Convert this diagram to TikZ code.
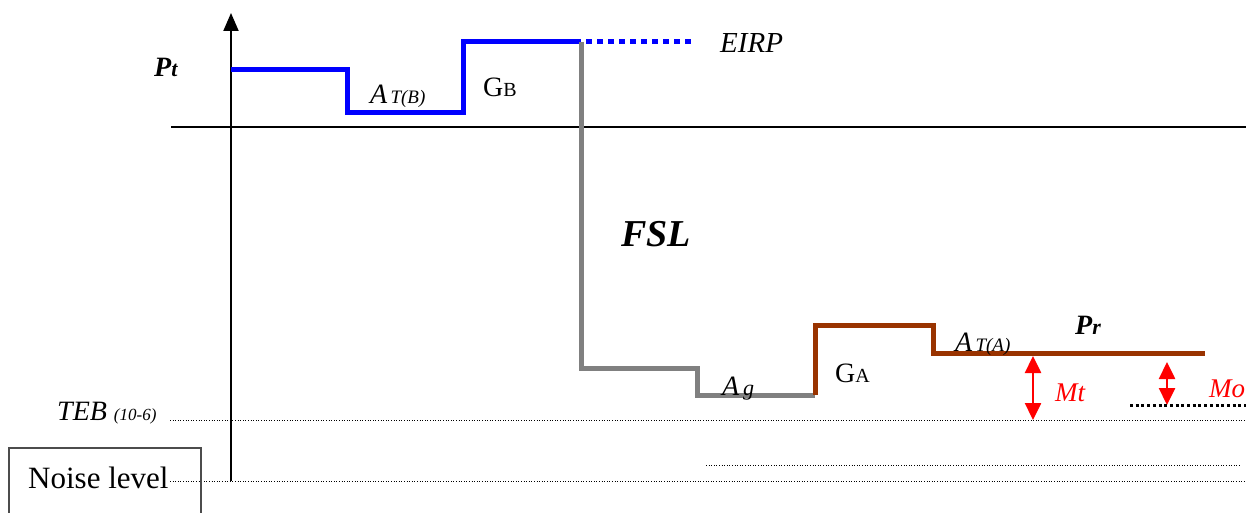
\documentclass[tikz,border=0pt]{standalone}
\usepackage{fontspec}
\setmainfont{Liberation Serif}
\usetikzlibrary{arrows.meta}
\definecolor{lvlblue}{HTML}{0000FF}
\definecolor{lvlgray}{HTML}{808080}
\definecolor{lvlbrown}{HTML}{993300}
\definecolor{lvlred}{HTML}{FF0000}
\begin{document}
\begin{tikzpicture}[x=1pt,y=-1pt,
  lvl/.style={line width=5pt,line join=miter},
  thindot/.style={line width=1pt,dash pattern=on 1pt off 1.6pt},
  redarrow/.style={line width=2.5pt,lvlred,{Triangle[width=16pt,length=17pt]}-{Triangle[width=16pt,length=17pt]}},
  lbl/.style={anchor=base west,inner sep=0pt,font=\fontsize{28}{28}\selectfont}]
\useasboundingbox (0,0) rectangle (1246,513);
% axes
\coordinate (ax0) at (231,481);
\coordinate (ax1) at (231,13);
\coordinate (h0) at (171,127);
\coordinate (h1) at (1246,127);
\draw[line width=1.3pt] (h0) -- (h1);
\draw[line width=2pt,-{Triangle[width=15pt,length=18pt]}] (ax0) -- (ax1);
% reference dotted lines
\coordinate (teb0) at (170,420); \coordinate (teb1) at (1246,420);
\coordinate (mid0) at (706,465); \coordinate (mid1) at (1240,465);
\coordinate (nl0) at (170,481); \coordinate (nl1) at (1246,481);
\draw[thindot] (teb0) -- (teb1);
\draw[thindot] (mid0) -- (mid1);
\draw[thindot] (nl0) -- (nl1);
% blue transmitter chain
\coordinate (b0) at (231,70);
\coordinate (b1) at (347,113);
\coordinate (b2) at (463,42);
\coordinate (b3) at (581,42);
\coordinate (b4) at (695,42);
\draw[lvl,lvlblue] (b0) -| (b1) -| (b2) -- (b3);
\draw[line width=5pt,lvlblue,dash pattern=on 6pt off 5pt] (b3) ++(5,0) -- (b4);
% gray path
\coordinate (g1) at (581,368);
\coordinate (g2) at (697,395);
\coordinate (g3) at (815,395);
\draw[lvl,lvlgray] (b3) -- (g1) -| (g2) -- (g3);
% brown receiver chain
\coordinate (r1) at (933,325);
\coordinate (r2) at (1205,353);
\draw[lvl,lvlbrown] (g3) |- (r1) |- (r2);
% margins
\coordinate (mt0) at (1033,356);
\coordinate (mt1) at (1033,420);
\draw[redarrow] (mt0) -- (mt1);
\coordinate (mo0) at (1167,362);
\coordinate (mo1) at (1167,405);
\draw[redarrow] (mo0) -- (mo1);
\coordinate (sd0) at (1130,405);
\coordinate (sd1) at (1246,405);
\draw[line width=3pt,dash pattern=on 3pt off 2.7pt] (sd0) -- (sd1);
% noise box
\node[draw=black!70,line width=1.5pt,minimum width=192pt,minimum height=80pt,anchor=north west,inner sep=0pt] (nbox) at (8,447) {};
\node[anchor=base west,inner sep=0pt,font=\fontsize{31}{31}\selectfont] (noise) at (28,488) {Noise level};
% labels
\node[lbl,font=\fontsize{28}{28}\selectfont\bfseries\itshape] (pt) at (154,77) {P{\fontsize{22}{22}\selectfont t}};
\node[lbl] (atb) at (370,104) {\textit{A}{\fontsize{19}{19}\selectfont\itshape\,T(B)}};
\node[lbl] (gb) at (483,97) {G{\fontsize{20}{20}\selectfont B}};
\node[lbl,font=\fontsize{29}{29}\selectfont\itshape] (eirp) at (720,53) {EIRP};
\node[lbl,font=\fontsize{38}{38}\selectfont\bfseries\itshape] (fsl) at (621,246) {FSL};
\node[lbl] (ag) at (722,395) {\textit{A}{\fontsize{22}{22}\selectfont\itshape\,g}};
\node[lbl] (ga) at (835,382) {G{\fontsize{20}{20}\selectfont A}};
\node[lbl] (ata) at (955,351) {\textit{A}{\fontsize{19}{19}\selectfont\itshape\,T(A)}};
\node[lbl,font=\fontsize{28}{28}\selectfont\bfseries\itshape] (pr) at (1075,334) {P{\fontsize{22}{22}\selectfont r}};
\node[lbl,font=\fontsize{27}{27}\selectfont\itshape,text=lvlred] (mt) at (1055,401) {Mt};
\node[lbl,font=\fontsize{27}{27}\selectfont\itshape,text=lvlred] (mo) at (1209,397) {Mo};
\node[lbl,font=\fontsize{28}{28}\selectfont\itshape] (teb) at (57,420) {TEB {\fontsize{17}{17}\selectfont (10-6)}};
\end{tikzpicture}
\end{document}
